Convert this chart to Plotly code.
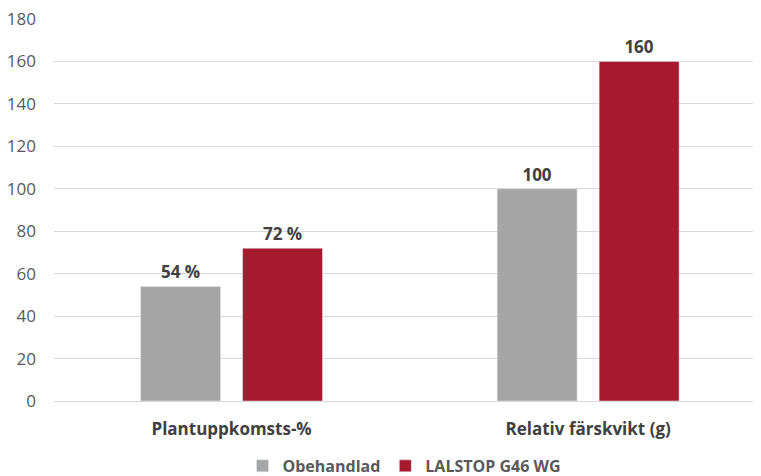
import plotly.graph_objects as go

categories = ["Plantuppkomsts-%", "Relativ färskvikt (g)"]
series_names = ["Obehandlad", "LALSTOP G46 WG"]
obehandlad = [54, 100]
lalstop = [72, 160]
obehandlad_labels = ["54 %", "100"]
lalstop_labels = ["72 %", "160"]
colors = ["#a5a5a5", "#a6192e"]
y_ticks = list(range(0, 181, 20))

FONT = "Open Sans"

fig = go.Figure()
for name, vals, labels, col in [
    (series_names[0], obehandlad, obehandlad_labels, colors[0]),
    (series_names[1], lalstop, lalstop_labels, colors[1]),
]:
    fig.add_trace(go.Bar(
        name=name, x=categories, y=vals, marker_color=col,
        text=labels, textposition="outside", cliponaxis=False,
        textfont=dict(family=FONT, size=17, color="#404040", weight="bold"),
    ))

fig.update_layout(
    width=753, height=468,
    margin=dict(l=46, r=6, t=11, b=75, autoexpand=False),
    paper_bgcolor="white", plot_bgcolor="white",
    barmode="group", bargap=0.428, bargroupgap=0.216,
    font=dict(family=FONT, color="#595959"),
    legend=dict(orientation="h", x=0.5, xanchor="center", y=-0.17, yanchor="middle",
                font=dict(family=FONT, size=16, color="#595959", weight="bold"),
                itemwidth=30, traceorder="normal"),
    xaxis=dict(type="category", range=[-0.498, 1.468], showgrid=False, showline=False,
               zeroline=False, ticks="", ticklabelstandoff=16, automargin=False,
               tickfont=dict(family=FONT, size=17, color="#404040", weight="bold")),
    yaxis=dict(range=[0, 180], tickvals=y_ticks, showgrid=True, gridcolor="#d9d9d9",
               gridwidth=1, zeroline=True, zerolinecolor="#d9d9d9", zerolinewidth=1,
               showline=False, ticks="", ticklabelstandoff=17, automargin=False,
               ticklabeloverflow="allow",
               tickfont=dict(family=FONT, size=17, color="#595959")),
)

fig.write_html("out.html")
